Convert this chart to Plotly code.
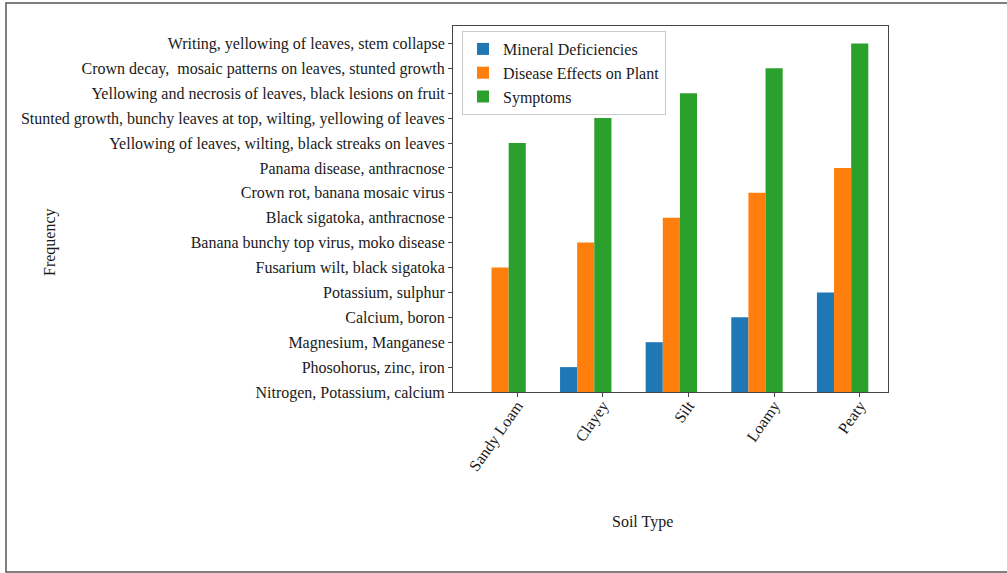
import plotly.graph_objects as go

# Soil types on the x axis
soil_types = ["Sandy Loam", "Clayey", "Silt", "Loamy", "Peaty"]

# Categorical value axis, bottom to top
mineral_labels = [
    "Nitrogen, Potassium, calcium",
    "Phosohorus, zinc, iron",
    "Magnesium, Manganese",
    "Calcium, boron",
    "Potassium, sulphur",
]
disease_labels = [
    "Fusarium wilt, black sigatoka",
    "Banana bunchy top virus, moko disease",
    "Black sigatoka, anthracnose",
    "Crown rot, banana mosaic virus",
    "Panama disease, anthracnose",
]
symptom_labels = [
    "Yellowing of leaves, wilting, black streaks on leaves",
    "Stunted growth, bunchy leaves at top, wilting, yellowing of leaves",
    "Yellowing and necrosis of leaves, black lesions on fruit",
    "Crown decay,\u00a0 mosaic patterns on leaves, stunted growth",
    "Writing, yellowing of leaves, stem collapse",
]
all_labels = mineral_labels + disease_labels + symptom_labels

# Value of each series per soil type
mineral_deficiencies = mineral_labels
disease_effects = disease_labels
symptoms = symptom_labels

FONT = "Liberation Serif"
W, H = 1007, 573
L, R, T, B = 453, 888, 26, 392  # plot area in pixels
pw, ph = R - L, B - T

def px_x(x):
    return (x - L) / pw

def px_y(y):
    return (B - y) / ph

fig = go.Figure()
series = [
    ("Mineral Deficiencies", mineral_deficiencies, "#1f77b4", -0.5),
    ("Disease Effects on Plant", disease_effects, "#ff7f0e", -0.3),
    ("Symptoms", symptoms, "#2ca02c", -0.1),
]
for name, vals, color, off in series:
    fig.add_trace(go.Bar(
        x=soil_types, y=vals, name=name,
        width=0.2, offset=off,
        marker=dict(color=color, line=dict(width=0)),
    ))

fig.update_layout(
    width=W, height=H,
    margin=dict(l=L, r=W - R, t=T, b=H - B),
    paper_bgcolor="white", plot_bgcolor="white",
    barmode="overlay",
    font=dict(family=FONT, size=16, color="#1a1a1a"),
    showlegend=True,
    legend=dict(
        x=px_x(462), y=px_y(31), xanchor="left", yanchor="top",
        bgcolor="rgba(255,255,255,0.8)", bordercolor="#cccccc", borderwidth=1,
        font=dict(family=FONT, size=16), tracegroupgap=0,
        itemwidth=30,
    ),
    xaxis=dict(
        type="category", range=[-0.75, 4.33],
        showline=True, linecolor="#444", linewidth=1, mirror=True,
        ticks="outside", ticklen=4, tickcolor="#444",
        tickangle=-55, ticklabelstandoff=-7,
        showgrid=False, zeroline=False,
    ),
    yaxis=dict(
        type="category", categoryorder="array", categoryarray=all_labels,
        tickmode="array", tickvals=all_labels, ticktext=all_labels,
        range=[0, 14.7],
        showline=True, linecolor="#444", linewidth=1, mirror=True,
        ticks="outside", ticklen=4, tickcolor="#444",
        showgrid=False, zeroline=False,
    ),
    annotations=[
        dict(text="Frequency", x=px_x(50), y=px_y(242), xref="paper", yref="paper",
             xanchor="center", yanchor="middle",
             textangle=-90, showarrow=False, font=dict(family=FONT, size=16)),
        dict(text="Soil Type", x=px_x(642.5), y=px_y(522), xref="paper", yref="paper",
             xanchor="center", yanchor="middle",
             showarrow=False, font=dict(family=FONT, size=16)),
    ],
    shapes=[
        dict(type="rect", xref="paper", yref="paper",
             x0=px_x(6), x1=px_x(1012), y0=px_y(572), y1=px_y(3),
             line=dict(color="#555", width=1.5), fillcolor="rgba(0,0,0,0)", layer="below"),
    ],
)

fig.write_html("out.html")
